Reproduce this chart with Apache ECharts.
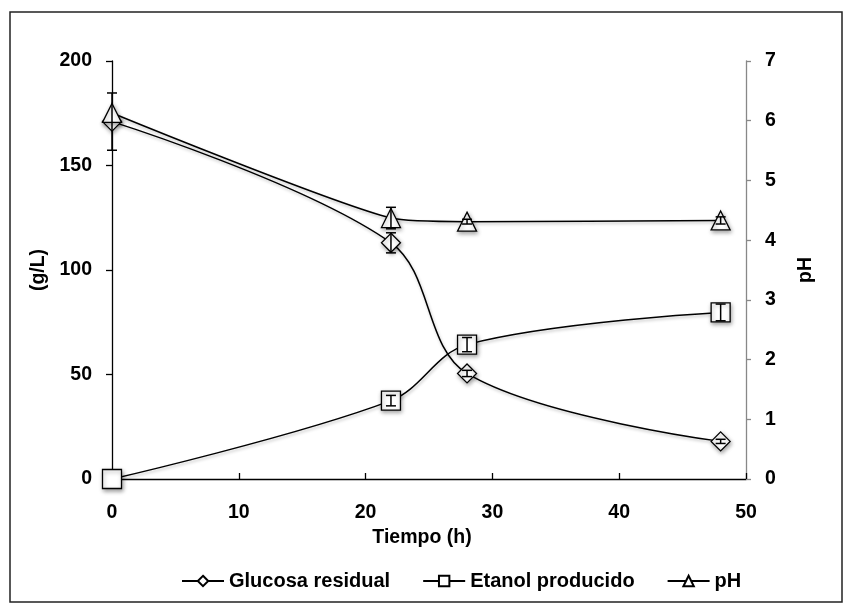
<!DOCTYPE html>
<html><head><meta charset="utf-8">
<script src="https://cdn.jsdelivr.net/npm/echarts@6/dist/echarts.min.js"></script>
<style>html,body{margin:0;padding:0;background:#fff}#c{width:852px;height:607px}</style>
</head><body><div id="c"></div>
<script>
// ---- data ----
const tiempo = [0, 22, 28, 48];
const glucosa = [171, 113, 50.5, 18];
const glucosaErr = [13.7, 4.8, 1.5, 1];
const etanol = [0, 37.5, 64.3, 79.7];
const etanolErr = [0, 2.5, 3.4, 4];
const ph = [6.13, 4.37, 4.31, 4.33];
const phErr = [0, 0.18, 0.04, 0.06];
const xTicks = [0, 10, 20, 30, 40, 50];
const leftTicks = [0, 50, 100, 150, 200];
const rightTicks = [0, 1, 2, 3, 4, 5, 6, 7];
const names = ['Glucosa residual', 'Etanol producido', 'pH'];

const FONT = 'Liberation Sans, Arial, sans-serif';
const FS = 19.5;
const LFS = 20;

function errSeries(vals, errs, yAxisIndex) {
  return {
    type: 'custom', yAxisIndex: yAxisIndex, z: 6, silent: true,
    encode: { x: 0, y: [1, 2] },
    data: tiempo.map((t, i) => [t, vals[i] - errs[i], vals[i] + errs[i], errs[i]]),
    renderItem: function (params, api) {
      if (api.value(3) <= 0) return null;
      const x = api.value(0);
      const lo = api.coord([x, api.value(1)]);
      const hi = api.coord([x, api.value(2)]);
      const w = 5;
      const style = { stroke: '#000', lineWidth: 1.5, fill: null };
      return { type: 'group', children: [
        { type: 'line', shape: { x1: lo[0], y1: lo[1], x2: hi[0], y2: hi[1] }, style: style },
        { type: 'line', shape: { x1: lo[0] - w, y1: lo[1], x2: lo[0] + w, y2: lo[1] }, style: style },
        { type: 'line', shape: { x1: hi[0] - w, y1: hi[1], x2: hi[0] + w, y2: hi[1] }, style: style }
      ]};
    }
  };
}

function lineSeries(name, vals, symbol, yAxisIndex, smooth) {
  return {
    name: name, type: 'line', yAxisIndex: yAxisIndex, smooth: smooth,
    data: tiempo.map((t, i) => [t, vals[i]]),
    symbol: symbol, symbolSize: 19, showSymbol: true, z: 3,
    lineStyle: { color: '#000', width: 1.5, shadowColor: 'rgba(0,0,0,0.25)', shadowBlur: 3, shadowOffsetX: 1, shadowOffsetY: 2 },
    itemStyle: { color: '#fff', borderColor: '#000', borderWidth: 1.3, shadowColor: 'rgba(0,0,0,0.35)', shadowBlur: 4, shadowOffsetX: 1, shadowOffsetY: 2 },
    emphasis: { disabled: true }
  };
}

const chart = echarts.init(document.getElementById('c'), null, { renderer: 'canvas' });
chart.setOption({
  animation: false,
  backgroundColor: '#fff',
  textStyle: { fontFamily: FONT },
  graphic: [{
    type: 'rect', shape: { x: 10, y: 12, width: 832, height: 590 },
    style: { fill: 'none', stroke: '#222', lineWidth: 1.5 }, z: -1, silent: true
  }],
  grid: { left: 112, right: 106, top: 61, bottom: 128, containLabel: false },
  legend: {
    data: names, left: 181, top: 571, padding: 0, itemWidth: 42, itemHeight: 13, itemGap: 32,
    textStyle: { fontFamily: FONT, fontWeight: 'bold', fontSize: LFS, color: '#000' },
    inactiveColor: '#000'
  },
  xAxis: {
    type: 'value', min: xTicks[0], max: xTicks[xTicks.length - 1], interval: xTicks[1] - xTicks[0],
    name: 'Tiempo (h)', nameLocation: 'middle', nameGap: 38,
    nameTextStyle: { fontFamily: FONT, fontWeight: 'bold', fontSize: FS, color: '#000', padding: [0, 14, 0, 0] },
    axisLine: { show: true, onZero: false, lineStyle: { color: '#000', width: 1.3 } },
    axisTick: { show: true, inside: true, length: 6, lineStyle: { color: '#000', width: 1.3 } },
    axisLabel: { fontFamily: FONT, fontWeight: 'bold', fontSize: FS, color: '#000', margin: 24 },
    splitLine: { show: false }
  },
  yAxis: [{
    type: 'value', position: 'left', min: leftTicks[0], max: leftTicks[leftTicks.length - 1], interval: leftTicks[1] - leftTicks[0],
    name: '(g/L)', nameLocation: 'middle', nameGap: 60, nameRotate: 90,
    nameTextStyle: { fontFamily: FONT, fontWeight: 'bold', fontSize: FS, color: '#000' },
    axisLine: { show: true, onZero: false, lineStyle: { color: '#000', width: 1.3 } },
    axisTick: { show: true, inside: false, length: 6, lineStyle: { color: '#000', width: 1.3 } },
    axisLabel: { fontFamily: FONT, fontWeight: 'bold', fontSize: FS, color: '#000', margin: 20 },
    splitLine: { show: false }
  }, {
    type: 'value', position: 'right', min: rightTicks[0], max: rightTicks[rightTicks.length - 1], interval: rightTicks[1] - rightTicks[0],
    name: 'pH', nameLocation: 'middle', nameGap: 50, nameRotate: 90,
    nameTextStyle: { fontFamily: FONT, fontWeight: 'bold', fontSize: FS, color: '#000' },
    axisLine: { show: true, onZero: false, lineStyle: { color: '#888', width: 1.3 } },
    axisTick: { show: true, inside: false, length: 5, lineStyle: { color: '#888', width: 1.3 } },
    axisLabel: { fontFamily: FONT, fontWeight: 'bold', fontSize: FS, color: '#000', margin: 19 },
    splitLine: { show: false }
  }],
  series: [
    lineSeries(names[0], glucosa, 'diamond', 0, 0.35),
    lineSeries(names[1], etanol, 'rect', 0, 0.35),
    lineSeries(names[2], ph, 'triangle', 1, 0.2),
    errSeries(glucosa, glucosaErr, 0),
    errSeries(etanol, etanolErr, 0),
    errSeries(ph, phErr, 1)
  ]
});
</script></body></html>
